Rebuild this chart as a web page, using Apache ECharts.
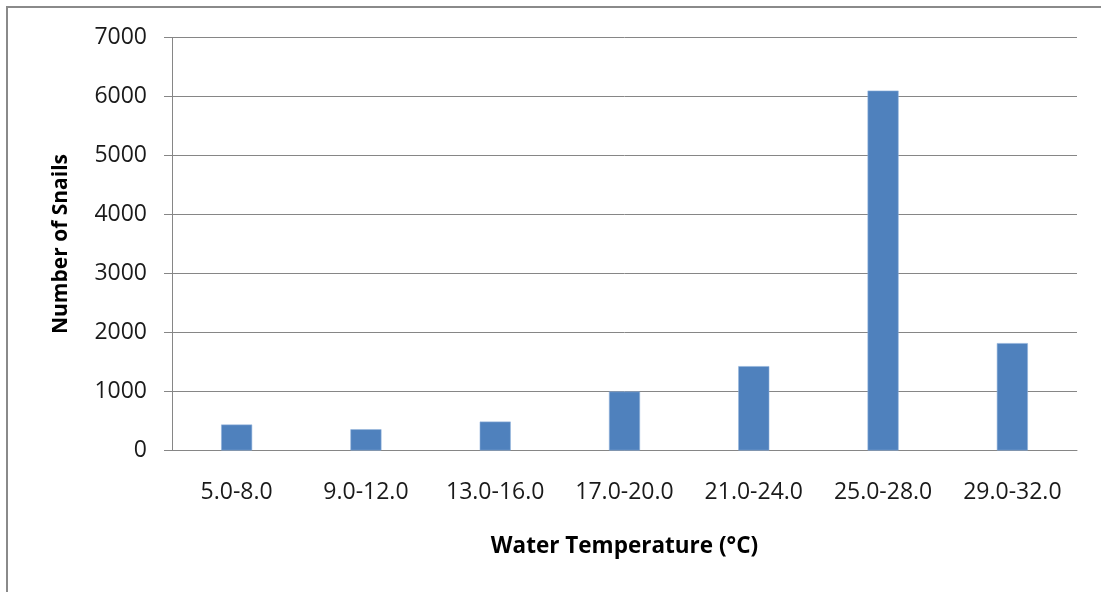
<!DOCTYPE html>
<html>
<head>
<meta charset="utf-8">
<script src="https://cdn.jsdelivr.net/npm/echarts@6/dist/echarts.min.js"></script>
<style>
  html, body { margin: 0; padding: 0; background: #fff; }
  #chart { position: absolute; left: 0; top: 0; width: 1101px; height: 592px; }
  #frame { position: absolute; left: 6px; top: 6px; right: 0; bottom: 0;
           border-left: 2px solid #8a8a8a; border-top: 2px solid #8a8a8a; pointer-events: none; }
</style>
</head>
<body>
<div id="chart"></div>
<div id="frame"></div>
<script>
const categories = ['5.0-8.0', '9.0-12.0', '13.0-16.0', '17.0-20.0', '21.0-24.0', '25.0-28.0', '29.0-32.0'];
const snailCounts = [440, 360, 490, 1000, 1430, 6100, 1820];
const xTitle = 'Water Temperature (°C)';
const yTitle = 'Number of Snails';

const chart = echarts.init(document.getElementById('chart'), null, { renderer: 'canvas' });
const font = '"Open Sans", "Noto Sans", sans-serif';
chart.setOption({
  animation: false,
  backgroundColor: '#ffffff',
  grid: { left: 172, right: 24, top: 37.5, bottom: 141.5, containLabel: false },
  xAxis: {
    type: 'category',
    data: categories,
    name: xTitle,
    nameLocation: 'middle',
    nameGap: 85,
    nameTextStyle: { fontFamily: font, fontSize: 22.5, fontWeight: 'bold', color: '#000' },
    axisLine: { show: true, lineStyle: { color: '#868686', width: 1 } },
    axisTick: { show: false },
    axisLabel: { fontFamily: font, fontSize: 23, color: '#1a1a1a', margin: 30, interval: 0 }
  },
  yAxis: {
    type: 'value',
    min: 0, max: 7000, interval: 1000,
    name: yTitle,
    nameLocation: 'middle',
    nameGap: 100,
    nameRotate: 90,
    nameTextStyle: { fontFamily: font, fontSize: 21, fontWeight: 'bold', color: '#000' },
    axisLine: { show: true, lineStyle: { color: '#868686', width: 1 } },
    axisTick: { show: true, inside: false, length: 8, lineStyle: { color: '#868686', width: 1 } },
    axisLabel: { fontFamily: font, fontSize: 23, color: '#1a1a1a', margin: 25, formatter: v => String(v) },
    splitLine: { show: true, lineStyle: { color: '#868686', width: 1 } }
  },
  series: [{
    type: 'bar',
    data: snailCounts,
    barWidth: '24%',
    itemStyle: { color: '#4f81bd', borderColor: '#8fb0da', borderWidth: 0.6 }
  }]
});
</script>
</body>
</html>
